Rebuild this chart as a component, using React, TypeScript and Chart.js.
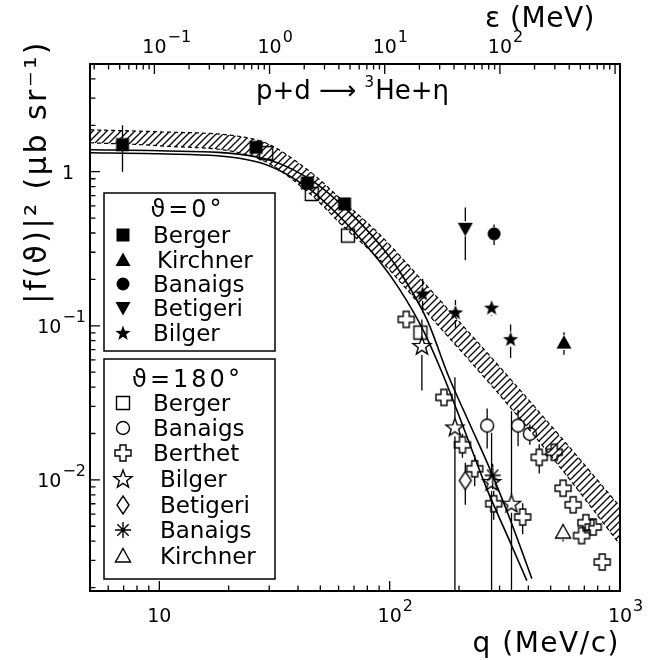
import { useEffect, useRef } from "react";
import { Chart, registerables } from "chart.js";

Chart.register(...registerables);

const FONT = "'DejaVu Sans', 'Liberation Sans', sans-serif";

// ---------- axes ----------
const qRange = [5, 1000];
const fRange = [0.0019, 5];
const epsRange = [0.0276, 1104];

const qTickValues = [10, 100, 1000];
const qTickBase = ["10", "10", "10"];
const qTickExp = ["", "2", "3"];
const epsTickValues = [0.1, 1, 10, 100];
const epsTickBase = ["10", "10", "10", "10"];
const epsTickExp = ["\u22121", "0", "1", "2"];
const fTickValues = [1, 0.1, 0.01];
const fTickBase = ["1", "10", "10"];
const fTickExp = ["", "\u22121", "\u22122"];

// ---------- data: theta = 0 deg ----------
const berger0Q = [6.92, 26.3, 43.9, 63.7];
const berger0F = [1.5, 1.44, 0.845, 0.618];
const berger0E = [0.5, 0, 0, 0];
const kirchner0Q = [571];
const kirchner0F = [0.0778];
const kirchner0E = [0.013];
const banaigs0Q = [284];
const banaigs0F = [0.395];
const banaigs0E = [0.06];
const betigeri0Q = [213];
const betigeri0F = [0.426];
const betigeri0E = [0.16];
const bilger0Q = [139, 193, 277, 335];
const bilger0F = [0.162, 0.122, 0.131, 0.0818];
const bilger0E = [0.04, 0.025, 0.015, 0.02];

// ---------- data: theta = 180 deg ----------
const berger180Q = [29.1, 45.9, 65.9, 136];
const berger180F = [1.32, 0.717, 0.385, 0.0903];
const berger180E = [0, 0, 0, 0];
const banaigs180Q = [265, 361, 406];
const banaigs180F = [0.0225, 0.0225, 0.0199];
const banaigs180E = [0.0065, 0.006, 0.003];
const berthetQ = [118, 172, 207, 234, 283, 378, 446, 518, 566, 626, 681, 711, 765, 837];
const berthetF = [0.11, 0.0343, 0.0169, 0.0118, 0.007, 0.00574, 0.014, 0.0151, 0.00883, 0.00689, 0.00435, 0.00527, 0.00494, 0.00293];
const berthetE = [0, 0, 0.003, 0.0027, 0.0015, 0.0013, 0.003, 0, 0, 0, 0, 0, 0, 0];
const bilger180Q = [138, 192, 277, 338];
const bilger180F = [0.074, 0.0219, 0.0097, 0.007];
const bilger180E = [0.036, 0.0245, 0.0105, 0.021];
const betigeri180Q = [213];
const betigeri180F = [0.0099];
const betigeri180E = [0.003];
const banaigsAstQ = [280];
const banaigsAstF = [0.0107];
const banaigsAstE = [0.002];
const kirchner180Q = [566];
const kirchner180F = [0.00458];
const kirchner180E = [0.0006];

// ---------- theory curves ----------
const curveAQ = [5, 10, 26.4, 44.0, 63.7, 90.5, 110.5, 146.3, 178.7, 222.7, 272.2, 332.5, 414.4];
const curveAF = [1.388, 1.367, 1.251, 0.915, 0.585, 0.337, 0.2253, 0.1069, 0.0485, 0.02304, 0.01178, 0.00559, 0.002286];
const curveBQ = [5, 10, 26.4, 44.0, 63.7, 90.5, 110.5, 139.2, 170.0, 211.9, 264.1, 322.7, 394.1];
const curveBF = [1.327, 1.308, 1.161, 0.788, 0.475, 0.2616, 0.1723, 0.0949, 0.0485, 0.02076, 0.00874, 0.00441, 0.00222];

// hatched band
const bandQ = [5, 10, 26.4, 44.0, 63.7, 90.5, 153.8, 300.8, 548, 1000];
const bandUpper = [1.87, 1.815, 1.611, 1.03, 0.63, 0.391, 0.1647, 0.0539, 0.01927, 0.00669];
const bandLower = [1.541, 1.473, 1.232, 0.742, 0.434, 0.269, 0.1102, 0.0355, 0.01214, 0.0038];

type Kind = "sqF" | "sqO" | "circF" | "circO" | "triF" | "triO" | "triDF" | "starF" | "starO" | "crossO" | "diamO" | "ast";

const HALF: Record<Kind, number> = {
  sqF: 6.5, sqO: 6.5, circF: 6.5, circO: 6.5, triF: 7.5, triO: 7.5, triDF: 7.5,
  starF: 7.5, starO: 9, crossO: 8, diamO: 9, ast: 8,
};

interface Series { label: string; group: number; kind: Kind; q: number[]; f: number[]; e: number[]; tx: number }

const series: Series[] = [
  { label: "Berger", group: 0, kind: "sqF", q: berger0Q, f: berger0F, e: berger0E, tx: 153 },
  { label: "Kirchner", group: 0, kind: "triF", q: kirchner0Q, f: kirchner0F, e: kirchner0E, tx: 157 },
  { label: "Banaigs", group: 0, kind: "circF", q: banaigs0Q, f: banaigs0F, e: banaigs0E, tx: 153 },
  { label: "Betigeri", group: 0, kind: "triDF", q: betigeri0Q, f: betigeri0F, e: betigeri0E, tx: 153 },
  { label: "Bilger", group: 0, kind: "starF", q: bilger0Q, f: bilger0F, e: bilger0E, tx: 153 },
  { label: "Berger", group: 1, kind: "sqO", q: berger180Q, f: berger180F, e: berger180E, tx: 153 },
  { label: "Banaigs", group: 1, kind: "circO", q: banaigs180Q, f: banaigs180F, e: banaigs180E, tx: 153 },
  { label: "Berthet", group: 1, kind: "crossO", q: berthetQ, f: berthetF, e: berthetE, tx: 153 },
  { label: "Bilger", group: 1, kind: "starO", q: bilger180Q, f: bilger180F, e: bilger180E, tx: 160 },
  { label: "Betigeri", group: 1, kind: "diamO", q: betigeri180Q, f: betigeri180F, e: betigeri180E, tx: 160 },
  { label: "Banaigs", group: 1, kind: "ast", q: banaigsAstQ, f: banaigsAstF, e: banaigsAstE, tx: 160 },
  { label: "Kirchner", group: 1, kind: "triO", q: kirchner180Q, f: kirchner180F, e: kirchner180E, tx: 160 },
];

const legendTitles = ["\u03D1=0\u00B0", "\u03D1=180\u00B0"];
const legendBoxes = [
  { x: 104, y: 193, w: 171, h: 158, titleY: 208, rows: [235, 260, 284, 308, 333] },
  { x: 104, y: 359, w: 171, h: 220, titleY: 378, rows: [403, 428, 453, 479, 505, 530, 556] },
];

function starPath(ctx: CanvasRenderingContext2D, x: number, y: number, ro: number, ri: number) {
  for (let i = 0; i < 10; i++) {
    const r = i % 2 === 0 ? ro : ri;
    const a = -Math.PI / 2 + (i * Math.PI) / 5;
    const px = x + r * Math.cos(a);
    const py = y + r * Math.sin(a);
    if (i === 0) ctx.moveTo(px, py);
    else ctx.lineTo(px, py);
  }
  ctx.closePath();
}

function drawMarker(ctx: CanvasRenderingContext2D, kind: Kind, x: number, y: number) {
  ctx.save();
  ctx.lineWidth = 1.4;
  ctx.strokeStyle = "#000";
  ctx.fillStyle = "#000";
  ctx.lineJoin = "miter";
  ctx.beginPath();
  switch (kind) {
    case "sqF":
      ctx.rect(x - 6.5, y - 6.5, 13, 13);
      ctx.fill();
      break;
    case "sqO":
      ctx.rect(x - 6.5, y - 6.5, 13, 13);
      ctx.stroke();
      break;
    case "circF":
      ctx.arc(x, y, 6.5, 0, Math.PI * 2);
      ctx.fill();
      break;
    case "circO":
      ctx.arc(x, y, 6.5, 0, Math.PI * 2);
      ctx.stroke();
      break;
    case "triF":
    case "triO":
      ctx.moveTo(x, y - 7.5);
      ctx.lineTo(x + 7.5, y + 6);
      ctx.lineTo(x - 7.5, y + 6);
      ctx.closePath();
      if (kind === "triF") ctx.fill();
      else ctx.stroke();
      break;
    case "triDF":
      ctx.moveTo(x, y + 7.5);
      ctx.lineTo(x + 7.5, y - 6);
      ctx.lineTo(x - 7.5, y - 6);
      ctx.closePath();
      ctx.fill();
      break;
    case "starF":
      starPath(ctx, x, y + 0.5, 8, 3.3);
      ctx.fill();
      break;
    case "starO":
      starPath(ctx, x, y + 0.5, 9.5, 3.9);
      ctx.stroke();
      break;
    case "crossO": {
      const a = 8, b = 3;
      const pts = [[-b, -a], [b, -a], [b, -b], [a, -b], [a, b], [b, b], [b, a], [-b, a], [-b, b], [-a, b], [-a, -b], [-b, -b]];
      pts.forEach((p, i) => (i === 0 ? ctx.moveTo(x + p[0], y + p[1]) : ctx.lineTo(x + p[0], y + p[1])));
      ctx.closePath();
      ctx.stroke();
      break;
    }
    case "diamO":
      ctx.moveTo(x, y - 9);
      ctx.lineTo(x + 6, y);
      ctx.lineTo(x, y + 9);
      ctx.lineTo(x - 6, y);
      ctx.closePath();
      ctx.stroke();
      break;
    case "ast": {
      const r = 8, d = r * 0.7071;
      ctx.moveTo(x, y - r); ctx.lineTo(x, y + r);
      ctx.moveTo(x - r, y); ctx.lineTo(x + r, y);
      ctx.moveTo(x - d, y - d); ctx.lineTo(x + d, y + d);
      ctx.moveTo(x - d, y + d); ctx.lineTo(x + d, y - d);
      ctx.stroke();
      break;
    }
  }
  ctx.restore();
}

function markerImage(kind: Kind): HTMLCanvasElement {
  const c = document.createElement("canvas");
  c.width = 24;
  c.height = 24;
  const g = c.getContext("2d")!;
  drawMarker(g, kind, 12, 12);
  return c;
}

function drawPow(ctx: CanvasRenderingContext2D, x: number, base: string, exp: string, baseY: number, align: "center" | "right") {
  ctx.font = `19px ${FONT}`;
  const bw = ctx.measureText(base).width;
  ctx.font = `16px ${FONT}`;
  const ew = exp ? ctx.measureText(exp).width : 0;
  let bx: number;
  if (align === "center") bx = x - bw / 2;
  else bx = x - bw - (exp ? ew + 1 : 0);
  ctx.textAlign = "left";
  ctx.textBaseline = "alphabetic";
  ctx.font = `19px ${FONT}`;
  ctx.fillText(base, bx, baseY);
  if (exp) {
    ctx.font = `16px ${FONT}`;
    ctx.fillText(exp, bx + bw + 1, baseY - 11);
  }
}

function setSpacing(ctx: CanvasRenderingContext2D, px: number) {
  (ctx as any).letterSpacing = `${px}px`;
}

const rootPlugin = {
  id: "rootStyle",
  beforeDraw(chart: any) {
    const c = chart.ctx;
    c.save();
    c.fillStyle = "#fff";
    c.fillRect(0, 0, chart.width, chart.height);
    c.restore();
  },
  afterDatasetsDraw(chart: any) {
    const { ctx, chartArea: a } = chart;
    const xs = chart.scales.x, ys = chart.scales.y;
    ctx.save();
    ctx.beginPath();
    ctx.rect(a.left, a.top, a.right - a.left, a.bottom - a.top);
    ctx.clip();
    ctx.strokeStyle = "#000";
    ctx.lineWidth = 1.3;
    series.forEach((s) => {
      s.q.forEach((q, i) => {
        const e = s.e[i];
        if (!e) return;
        const px = xs.getPixelForValue(q);
        const py = ys.getPixelForValue(s.f[i]);
        const top = ys.getPixelForValue(s.f[i] + e);
        const lo = s.f[i] - e;
        const bot = lo > 0 ? ys.getPixelForValue(lo) : a.bottom + 5;
        const g = HALF[s.kind];
        ctx.beginPath();
        if (top < py - g) { ctx.moveTo(px, top); ctx.lineTo(px, py - g); }
        if (bot > py + g) { ctx.moveTo(px, py + g); ctx.lineTo(px, bot); }
        ctx.stroke();
      });
    });
    ctx.restore();
  },
  afterDraw(chart: any) {
    const { ctx, chartArea: a } = chart;
    const xs = chart.scales.x, ys = chart.scales.y, x2 = chart.scales.x2;
    ctx.save();
    ctx.fillStyle = "#000";
    ctx.strokeStyle = "#000";
    // frame
    ctx.lineWidth = 2;
    ctx.strokeRect(a.left, a.top, a.right - a.left, a.bottom - a.top);
    // ticks
    ctx.lineWidth = 1.3;
    ctx.beginPath();
    for (let e = 0; e <= 3; e++) for (let m = 1; m <= 9; m++) {
      const v = m * Math.pow(10, e);
      if (v < qRange[0] || v > qRange[1]) continue;
      const px = xs.getPixelForValue(v);
      const L = m === 1 ? 10 : 5.5;
      ctx.moveTo(px, a.bottom); ctx.lineTo(px, a.bottom - L);
    }
    for (let e = -3; e <= 0; e++) for (let m = 1; m <= 9; m++) {
      const v = m * Math.pow(10, e);
      if (v < fRange[0] || v > fRange[1]) continue;
      const py = ys.getPixelForValue(v);
      const L = m === 1 ? 10 : 5.5;
      ctx.moveTo(a.left, py); ctx.lineTo(a.left + L, py);
    }
    for (let e = -2; e <= 3; e++) for (let m = 1; m <= 9; m++) {
      const v = m * Math.pow(10, e);
      if (v < epsRange[0] || v > epsRange[1]) continue;
      const px = x2.getPixelForValue(v);
      const L = m === 1 ? 10 : 5.5;
      ctx.moveTo(px, a.top); ctx.lineTo(px, a.top + L);
    }
    ctx.stroke();
    // tick labels
    qTickValues.forEach((v, i) => drawPow(ctx, xs.getPixelForValue(v), qTickBase[i], qTickExp[i], a.bottom + 31, "center"));
    epsTickValues.forEach((v, i) => drawPow(ctx, x2.getPixelForValue(v), epsTickBase[i], epsTickExp[i], a.top - 11, "center"));
    fTickValues.forEach((v, i) => {
      const py = ys.getPixelForValue(v);
      if (fTickExp[i]) drawPow(ctx, 86, fTickBase[i], fTickExp[i], py + 7, "right");
      else drawPow(ctx, 74, fTickBase[i], "", py + 7, "right");
    });
    // axis titles
    ctx.font = `28px ${FONT}`;
    ctx.textAlign = "right";
    ctx.textBaseline = "alphabetic";
    setSpacing(ctx, 1.5);
    ctx.fillText("q (MeV/c)", a.right, 652);
    setSpacing(ctx, 0.5);
    ctx.fillText("\u03B5 (MeV)", 595, 27);
    ctx.save();
    ctx.translate(46, 40);
    ctx.rotate(-Math.PI / 2);
    ctx.textAlign = "right";
    ctx.font = `30px ${FONT}`;
    setSpacing(ctx, 2.5);
    ctx.fillText("|f(\u03D1)|\u00B2 (\u03BCb sr\u207B\u00B9)", 0, 0);
    ctx.restore();
    setSpacing(ctx, 0);
    // reaction
    ctx.textAlign = "left";
    ctx.font = `26px ${FONT}`;
    const p1 = "p+d \u27F6 ";
    const w1 = ctx.measureText(p1).width;
    ctx.font = `15px ${FONT}`;
    const w2 = ctx.measureText("3").width;
    ctx.font = `26px ${FONT}`;
    const p3 = "He+\u03B7";
    const w3 = ctx.measureText(p3).width;
    const sx = 352 - (w1 + w2 + w3) / 2;
    ctx.fillText(p1, sx, 99);
    ctx.font = `15px ${FONT}`;
    ctx.fillText("3", sx + w1, 87);
    ctx.font = `26px ${FONT}`;
    ctx.fillText(p3, sx + w1 + w2 + 1, 99);
    // legend
    legendBoxes.forEach((b, gi) => {
      ctx.fillStyle = "#fff";
      ctx.fillRect(b.x, b.y, b.w, b.h);
      ctx.lineWidth = 1.5;
      ctx.strokeRect(b.x, b.y, b.w, b.h);
      ctx.fillStyle = "#000";
      ctx.font = `24px ${FONT}`;
      ctx.textAlign = "center";
      setSpacing(ctx, 3);
      ctx.fillText(legendTitles[gi], b.x + b.w / 2 - 2, b.titleY + 9);
      setSpacing(ctx, 0);
      ctx.textAlign = "left";
      series.filter((s) => s.group === gi).forEach((s, ri) => {
        const ry = b.rows[ri];
        drawMarker(ctx, s.kind, 123, ry);
        ctx.font = `23px ${FONT}`;
        ctx.fillText(s.label, s.tx, ry + 8);
      });
    });
    ctx.restore();
  },
};

export default function App() {
  const ref = useRef<HTMLCanvasElement>(null);
  useEffect(() => {
    const canvas = ref.current!;
    const c2d = canvas.getContext("2d")!;
    const hatch = document.createElement("canvas");
    hatch.width = 7;
    hatch.height = 7;
    const h = hatch.getContext("2d")!;
    h.strokeStyle = "#000";
    h.lineWidth = 1.3;
    h.beginPath();
    h.moveTo(-1, 8); h.lineTo(8, -1);
    h.moveTo(-1, 1); h.lineTo(1, -1);
    h.moveTo(6, 8); h.lineTo(8, 6);
    h.stroke();
    const pattern = c2d.createPattern(hatch, "repeat");

    const toPts = (q: number[], f: number[]) => q.map((v, i) => ({ x: v, y: f[i] }));

    const datasets: any[] = [];
    datasets.push({
      type: "line", label: "band upper", data: toPts(bandQ, bandUpper), borderColor: "#000",
      borderWidth: 1.2, borderDash: [4, 3], pointRadius: 0, fill: false, cubicInterpolationMode: "monotone", order: 3,
    });
    datasets.push({
      type: "line", label: "band lower", data: toPts(bandQ, bandLower), borderColor: "#000",
      borderWidth: 1.2, borderDash: [4, 3], pointRadius: 0, fill: "-1", backgroundColor: pattern,
      cubicInterpolationMode: "monotone", order: 3,
    });
    datasets.push({
      type: "line", label: "theory A", data: toPts(curveAQ, curveAF), borderColor: "#000",
      borderWidth: 1.6, pointRadius: 0, fill: false, cubicInterpolationMode: "monotone", order: 2,
    });
    datasets.push({
      type: "line", label: "theory B", data: toPts(curveBQ, curveBF), borderColor: "#000",
      borderWidth: 1.6, pointRadius: 0, fill: false, cubicInterpolationMode: "monotone", order: 2,
    });
    series.forEach((s) => {
      const img = markerImage(s.kind);
      datasets.push({
        type: "scatter", label: s.label, data: toPts(s.q, s.f), pointStyle: img, pointRadius: 10,
        showLine: false, order: 0,
      });
    });

    const chart = new Chart(canvas, {
      type: "scatter",
      data: { datasets },
      options: {
        animation: false,
        responsive: false,
        devicePixelRatio: 1,
        layout: { padding: { left: 90, top: 64, right: 38, bottom: 69 }, autoPadding: false },
        plugins: { legend: { display: false }, tooltip: { enabled: false }, title: { display: false } },
        events: [],
        scales: {
          x: { type: "logarithmic", min: qRange[0], max: qRange[1], display: false },
          y: { type: "logarithmic", min: fRange[0], max: fRange[1], display: false },
          x2: { type: "logarithmic", position: "top", min: epsRange[0], max: epsRange[1], display: false },
        },
      } as any,
      plugins: [rootPlugin],
    });
    return () => chart.destroy();
  }, []);
  return (
    <div style={{ position: "absolute", left: 0, top: 0, width: 658, height: 660, background: "#fff" }}>
      <canvas ref={ref} width={658} height={660} style={{ display: "block", width: 658, height: 660 }} />
    </div>
  );
}
